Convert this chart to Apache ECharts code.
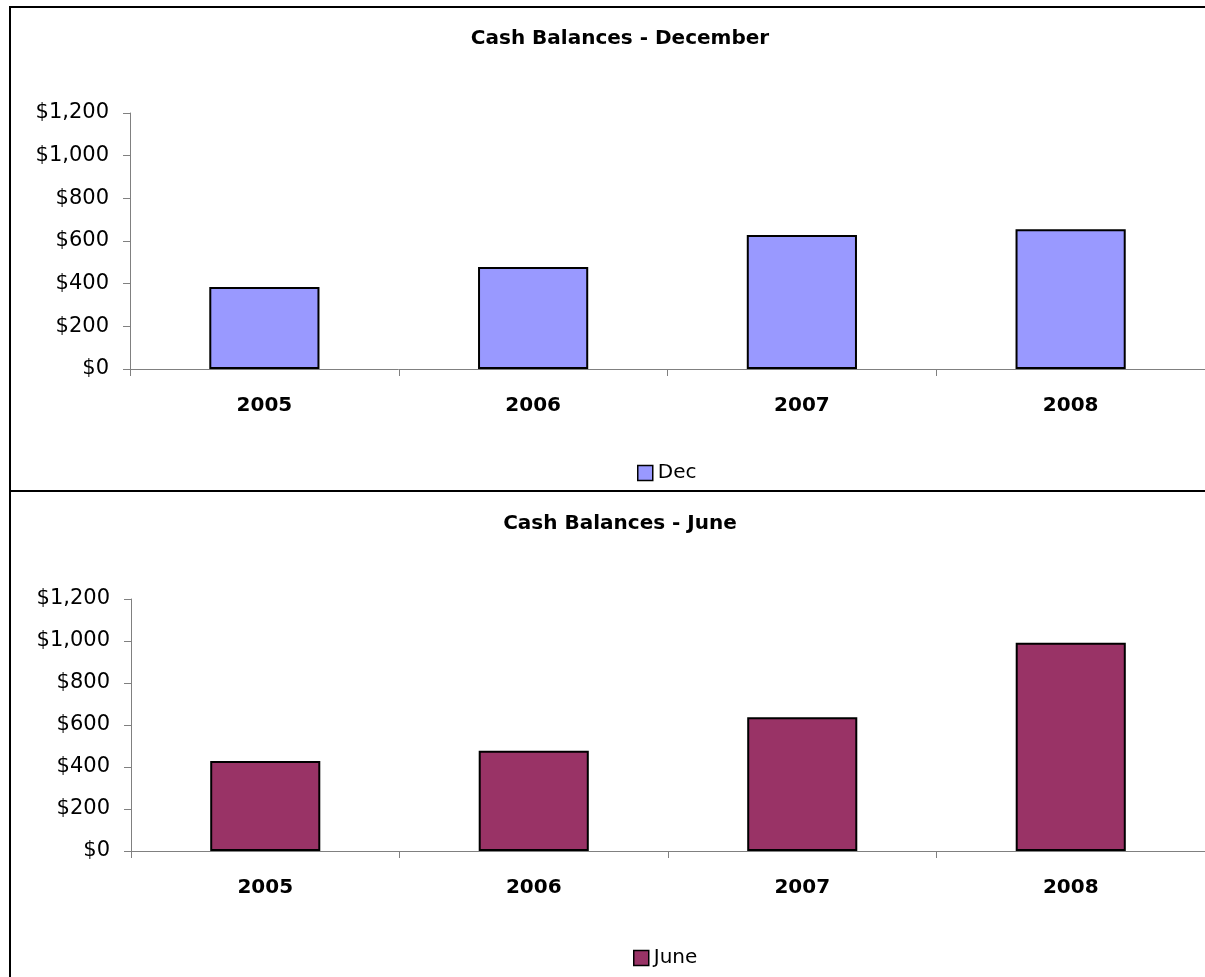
<!DOCTYPE html>
<html>
<head>
<meta charset="utf-8">
<script src="https://cdn.jsdelivr.net/npm/echarts@6/dist/echarts.min.js"></script>
<style>
html,body{margin:0;padding:0;background:#fff;}
#chart{width:1205px;height:977px;}
</style>
</head>
<body>
<div id="chart"></div>
<script>
const categories = ['2005', '2006', '2007', '2008'];
const decValues = [384, 478, 628, 655];
const juneValues = [429, 477, 637, 992];
const yTicks = [0, 200, 400, 600, 800, 1000, 1200];

const FONT = 'DejaVu Sans';
function money(v) { return '$' + v.toLocaleString('en-US'); }

const chart = echarts.init(document.getElementById('chart'), null, {renderer: 'canvas'});

function xAxis(gridIndex) {
  return {
    type: 'category', gridIndex: gridIndex, data: categories,
    axisLine: {lineStyle: {color: '#808080', width: 1}},
    axisTick: {show: true, length: 7, lineStyle: {color: '#808080'}},
    axisLabel: {margin: 27, color: '#000', fontFamily: FONT, fontWeight: 'bold', fontSize: 20},
    splitLine: {show: false}
  };
}
function yAxis(gridIndex) {
  return {
    type: 'value', gridIndex: gridIndex, min: yTicks[0], max: yTicks[yTicks.length - 1], interval: 200,
    axisLine: {show: true, lineStyle: {color: '#808080', width: 1}},
    axisTick: {show: true, length: 7, lineStyle: {color: '#808080'}},
    axisLabel: {margin: 21, color: '#000', fontFamily: FONT, fontSize: 21, formatter: money},
    splitLine: {show: false}
  };
}

chart.setOption({
  animation: false,
  backgroundColor: '#fff',
  title: [
    {text: 'Cash Balances - December', left: 615, textAlign: 'center', top: 24,
     textStyle: {fontFamily: FONT, fontWeight: 'bold', fontSize: 20, color: '#000'}},
    {text: 'Cash Balances - June', left: 615, textAlign: 'center', top: 509,
     textStyle: {fontFamily: FONT, fontWeight: 'bold', fontSize: 20, color: '#000'}}
  ],
  legend: [
    {data: ['Dec'], left: 632, top: 458, itemWidth: 15, itemHeight: 15, itemGap: 8,
     icon: 'rect', textStyle: {fontFamily: FONT, fontSize: 20, color: '#000'},
     itemStyle: {borderColor: '#000', borderWidth: 1.5}},
    {data: ['June'], left: 628, top: 943, itemWidth: 15, itemHeight: 15, itemGap: 8,
     icon: 'rect', textStyle: {fontFamily: FONT, fontSize: 20, color: '#000'},
     itemStyle: {borderColor: '#000', borderWidth: 1.5}}
  ],
  grid: [
    {left: 130, top: 113, width: 1078, height: 256},
    {left: 131, top: 599, width: 1078, height: 252}
  ],
  xAxis: [xAxis(0), xAxis(1)],
  yAxis: [yAxis(0), yAxis(1)],
  graphic: [
    {type: 'rect', shape: {x: 10, y: 7, width: 1220, height: 484}, style: {fill: 'none', stroke: '#000', lineWidth: 2}, z: 100},
    {type: 'rect', shape: {x: 10, y: 491, width: 1220, height: 520}, style: {fill: 'none', stroke: '#000', lineWidth: 2}, z: 100}
  ],
  series: [
    {name: 'Dec', type: 'bar', xAxisIndex: 0, yAxisIndex: 0, data: decValues, barCategoryGap: '59%',
     itemStyle: {color: '#9999FF', borderColor: '#000', borderWidth: 2}},
    {name: 'June', type: 'bar', xAxisIndex: 1, yAxisIndex: 1, data: juneValues, barCategoryGap: '59%',
     itemStyle: {color: '#993366', borderColor: '#000', borderWidth: 2}}
  ]
});
</script>
</body>
</html>
